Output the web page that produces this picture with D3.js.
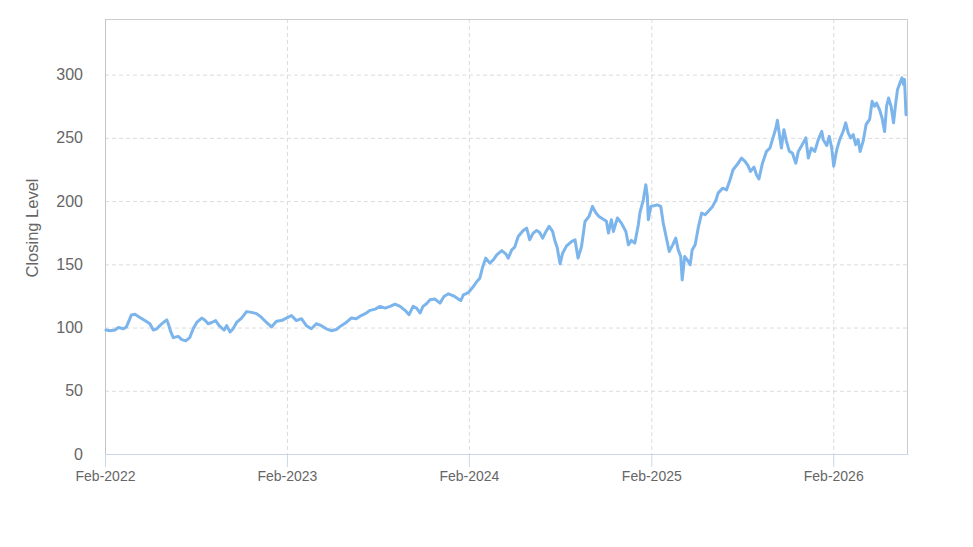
<!DOCTYPE html>
<html lang='en'>

<head>
   <meta charset='UTF-8'>
   <title>Closing Level</title>
   <script src='https://d3js.org/d3.v7.min.js'></script>
   <style>
      body {
         margin: 0;
         background: #fff;
      }

      text {
         font-family: 'Liberation Sans', Arial, sans-serif;
      }
   </style>
</head>

<body>
   <div id='chart'></div>
   <script>

      // values
      const dates = [
         '2022-02-03', '2022-02-11', '2022-02-21', '2022-02-28', '2022-03-10', '2022-03-16', '2022-03-26', '2022-04-02',
         '2022-04-12', '2022-04-22', '2022-05-02', '2022-05-09', '2022-05-16', '2022-05-22', '2022-05-29', '2022-06-05',
         '2022-06-08', '2022-06-13', '2022-06-18', '2022-06-28', '2022-07-05', '2022-07-13', '2022-07-21', '2022-07-28',
         '2022-08-04', '2022-08-14', '2022-08-20', '2022-08-27', '2022-09-03', '2022-09-11', '2022-09-18', '2022-09-28',
         '2022-10-03', '2022-10-10', '2022-10-16', '2022-10-23', '2022-11-02', '2022-11-12', '2022-11-22', '2022-12-02',
         '2022-12-12', '2022-12-22', '2023-01-01', '2023-01-11', '2023-01-21', '2023-01-31', '2023-02-10', '2023-02-20',
         '2023-03-02', '2023-03-12', '2023-03-22', '2023-04-01', '2023-04-11', '2023-04-21', '2023-05-01', '2023-05-11',
         '2023-05-21', '2023-05-31', '2023-06-10', '2023-06-20', '2023-06-30', '2023-07-08', '2023-07-18', '2023-07-28',
         '2023-08-07', '2023-08-17', '2023-08-27', '2023-09-06', '2023-09-16', '2023-09-26', '2023-10-04', '2023-10-12',
         '2023-10-19', '2023-10-26', '2023-11-01', '2023-11-08', '2023-11-15', '2023-11-25', '2023-12-05', '2023-12-13',
         '2023-12-22', '2024-01-01', '2024-01-11', '2024-01-16', '2024-01-21', '2024-01-31', '2024-02-10', '2024-02-17',
         '2024-02-23', '2024-02-29', '2024-03-06', '2024-03-14', '2024-03-21', '2024-03-28', '2024-04-07', '2024-04-15',
         '2024-04-20', '2024-04-27', '2024-05-03', '2024-05-10', '2024-05-20', '2024-05-27', '2024-06-02', '2024-06-09',
         '2024-06-16', '2024-06-22', '2024-06-28', '2024-07-03', '2024-07-11', '2024-07-18', '2024-07-23', '2024-07-27',
         '2024-08-02', '2024-08-07', '2024-08-15', '2024-08-25', '2024-09-01', '2024-09-07', '2024-09-14', '2024-09-21',
         '2024-09-29', '2024-10-06', '2024-10-13', '2024-10-19', '2024-10-27', '2024-11-03', '2024-11-07', '2024-11-13',
         '2024-11-17', '2024-11-25', '2024-12-03', '2024-12-12', '2024-12-17', '2024-12-23', '2024-12-30', '2025-01-06',
         '2025-01-09', '2025-01-16', '2025-01-21', '2025-01-24', '2025-01-26', '2025-01-31', '2025-02-06', '2025-02-13',
         '2025-02-20', '2025-02-25', '2025-03-04', '2025-03-09', '2025-03-16', '2025-03-22', '2025-03-27', '2025-04-01',
         '2025-04-04', '2025-04-09', '2025-04-14', '2025-04-20', '2025-04-24', '2025-04-30', '2025-05-06', '2025-05-13',
         '2025-05-20', '2025-05-26', '2025-06-04', '2025-06-11', '2025-06-15', '2025-06-24', '2025-07-02', '2025-07-09',
         '2025-07-15', '2025-07-23', '2025-08-01', '2025-08-08', '2025-08-14', '2025-08-19', '2025-08-26', '2025-08-31',
         '2025-09-05', '2025-09-12', '2025-09-20', '2025-09-27', '2025-10-04', '2025-10-09', '2025-10-12', '2025-10-17',
         '2025-10-20', '2025-10-25', '2025-10-30', '2025-11-05', '2025-11-11', '2025-11-18', '2025-11-23', '2025-11-29',
         '2025-12-08', '2025-12-13', '2025-12-19', '2025-12-26', '2026-01-02', '2026-01-09', '2026-01-12', '2026-01-19',
         '2026-01-24', '2026-01-29', '2026-02-02', '2026-02-08', '2026-02-14', '2026-02-21', '2026-02-26', '2026-03-03',
         '2026-03-08', '2026-03-13', '2026-03-18', '2026-03-23', '2026-03-27', '2026-04-02', '2026-04-08', '2026-04-15',
         '2026-04-20', '2026-04-25', '2026-04-29', '2026-05-05', '2026-05-10', '2026-05-15', '2026-05-19', '2026-05-23',
         '2026-05-28', '2026-06-02', '2026-06-06', '2026-06-10', '2026-06-15', '2026-06-19', '2026-06-22', '2026-06-24',
         '2026-06-27'
      ];

      const closes = [
         98, 97.5, 98, 100, 99, 100.5, 110, 110.5,
         108, 105.5, 103, 98, 99, 101.5, 104, 106,
         103, 96.5, 92, 93, 90.5, 89.5, 92, 99,
         104, 107.5, 106, 103, 104, 105.5, 101.5, 98,
         101.5, 96.5, 99, 104, 107.5, 112.6, 112, 111,
         108, 104, 100.5, 105, 105.5, 107.5, 109.5, 105.5,
         107, 101.5, 99, 103, 101.5, 99, 97.5, 98.5,
         101.5, 104, 107.5, 107, 109.5, 111, 113.6, 114.6,
         116.7, 115.4, 116.7, 118.5, 116.7, 113.6, 110.2, 116.7,
         115.4, 111.5, 116.7, 118.8, 121.9, 122.5, 119.3, 124.6,
         126.7, 125.1, 122.5, 121.4, 125.9, 127.7, 132.4, 136.4,
         139, 148.3, 154.9, 150.9, 153.5, 157.5, 160.9, 158.3,
         154.9, 161.4, 163.6, 172, 176.8, 178.6, 169.4, 174.7,
         176.8, 175.2, 170.7, 174.7, 180, 176, 168, 163.6,
         150.4, 158.8, 164.6, 168, 169.4, 154.9, 164.1, 183.9,
         187.9, 195.8, 190.5, 187.9, 185.8, 184, 174.7, 185.3,
         176, 186.6, 182.6, 176, 165.4, 168.9, 166.8, 181.3,
         190.5, 201, 213, 204, 185.3, 195.8, 196.3, 197,
         195.8, 182.6, 169.4, 160.2, 165.4, 170.7, 161.4, 156.2,
         137.7, 156.2, 153.5, 149.6, 161.4, 165.4, 178.6, 190.5,
         189.2, 191.8, 195.8, 201, 206.3, 210.2, 208.9, 216.9,
         224.8, 228.7, 234, 231.4, 228, 223.5, 226.9, 220.9,
         217.5, 230, 239.3, 241.9, 251.2, 257.8, 263.9, 250,
         241.9, 256.5, 247.4, 239.3, 238, 230, 239.3, 243.3,
         250, 234, 241.9, 239.3, 248.6, 255.2, 248.6, 243.9,
         251.2, 241.9, 227.5, 240.6, 248.6, 255.2, 261.9, 254,
         250, 252.5, 244.6, 248.6, 239.3, 247.4, 260.6, 264.6,
         278.9, 275, 277.5, 272.2, 265.6, 255, 275, 281.5,
         275, 261.9, 276.3, 288.2, 293.5, 297.5, 292.2, 296.2,
         268.3
      ];

      const xTickDates = ['2022-02-01', '2023-02-01', '2024-02-01', '2025-02-01', '2026-02-01'];
      const yTickValues = [0, 50, 100, 150, 200, 250, 300];
      const xStart = '2022-02-01';
      const xEnd = '2026-07-01';
      const yMax = 344;
      const yTitle = 'Closing Level';

      const parse = d3.timeParse('%Y-%m-%d');
      const data = dates.map((d, i) => ({ date: parse(d), close: closes[i] }));

      const margins = { top: 19, right: 65, bottom: 93, left: 105 };
      const width = 973 - (margins.left + margins.right);
      const height = 547 - (margins.top + margins.bottom);

      const svg = d3.select('#chart').append('svg').attr('width', 973).attr('height', 547);
      const g = svg.append('g').attr('transform', `translate(${margins.left}, ${margins.top})`);

      const x = d3.scaleTime().domain([parse(xStart), parse(xEnd)]).range([0, width]);
      const y = d3.scaleLinear().domain([0, yMax]).range([height, 0]);

      // horizontal grid
      g.append('g')
         .attr('class', 'y-grid')
         .call(d3.axisLeft(y).tickValues(yTickValues.slice(1)).tickSize(-width).tickFormat(''))
         .call(s => s.select('.domain').remove())
         .call(s => s.selectAll('line').attr('stroke', '#dcdcdc').attr('stroke-dasharray', '4,3'));

      // vertical grid
      g.append('g')
         .attr('class', 'x-grid')
         .call(d3.axisBottom(x).tickValues(xTickDates.map(parse)).tickSize(height).tickFormat(''))
         .call(s => s.select('.domain').remove())
         .call(s => s.selectAll('line').attr('stroke', '#dcdcdc').attr('stroke-dasharray', '4,3'));

      // frame top + right
      g.append('path')
         .attr('d', `M0,0.5H${width - 0.5}V${height}`)
         .attr('fill', 'none')
         .attr('stroke', '#cccccc');

      // left axis line
      g.append('line')
         .attr('x1', 0.5).attr('x2', 0.5)
         .attr('y1', 0).attr('y2', height)
         .attr('stroke', '#c4c4c4');

      // y labels
      g.append('g')
         .attr('class', 'y-axis')
         .call(d3.axisLeft(y).tickValues(yTickValues).tickSize(0).tickPadding(22))
         .call(s => s.select('.domain').remove())
         .call(s => s.selectAll('text')
            .attr('fill', '#666')
            .style('font-size', '16px'));

      // x axis
      g.append('g')
         .attr('class', 'x-axis')
         .attr('transform', `translate(0, ${height})`)
         .call(d3.axisBottom(x).tickValues(xTickDates.map(parse)).tickSize(13).tickSizeOuter(0).tickPadding(4)
            .tickFormat(d3.timeFormat('%b-%Y')))
         .call(s => s.select('.domain').attr('stroke', '#ccd6eb'))
         .call(s => s.selectAll('line').attr('stroke', '#ccd6eb'))
         .call(s => s.selectAll('text')
            .attr('fill', '#666')
            .style('font-size', '14px'));

      g.append('text')
         .attr('transform', 'rotate(-90)')
         .attr('x', -(228 - margins.top))
         .attr('y', 38 - margins.left)
         .attr('text-anchor', 'middle')
         .attr('fill', '#666')
         .style('font-size', '16.5px')
         .text(yTitle);

      const line = d3.line()
         .x(d => x(d.date))
         .y(d => y(d.close));

      g.append('path')
         .datum(data)
         .attr('fill', 'none')
         .attr('stroke', '#7cb5ec')
         .attr('stroke-width', 3)
         .attr('stroke-linejoin', 'round')
         .attr('stroke-linecap', 'round')
         .attr('d', line);

   </script>
</body>

</html>
